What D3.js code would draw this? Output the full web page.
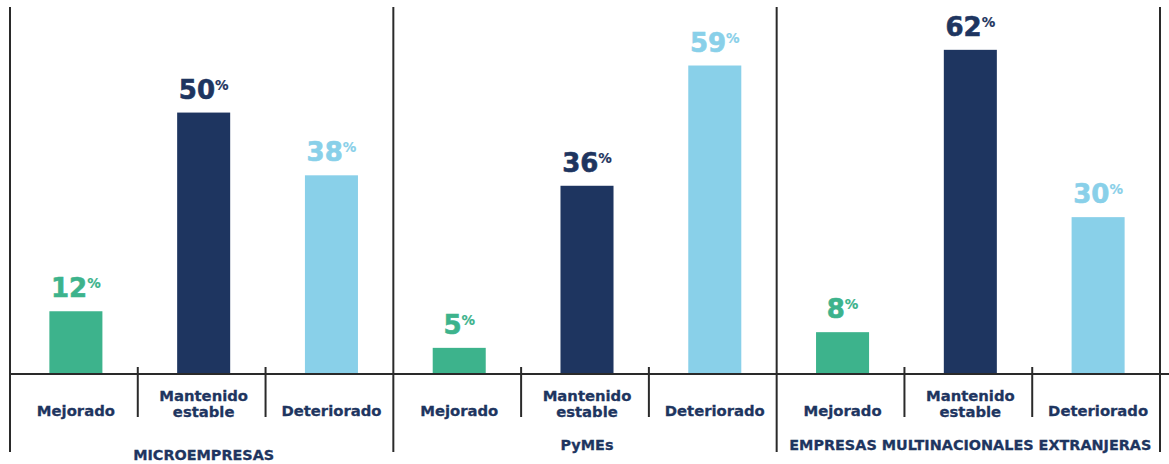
<!DOCTYPE html>
<html>
<head>
<meta charset="utf-8">
<script src="https://cdn.jsdelivr.net/npm/d3@7"></script>
<style>
  html, body { margin: 0; padding: 0; background: #ffffff; }
  svg { display: block; }
  text { font-family: "DejaVu Sans", sans-serif; font-weight: bold; }
</style>
</head>
<body>
<svg id="chart" width="1169" height="464"></svg>
<script>
// Company groups and answer categories
const groups = ["MICROEMPRESAS", "PyMEs", "EMPRESAS MULTINACIONALES EXTRANJERAS"];
const categories = ["Mejorado", "Mantenido estable", "Deteriorado"];
const categoryLines = [["Mejorado"], ["Mantenido", "estable"], ["Deteriorado"]];

// Share of companies per answer (%), one value per group
const mejorado    = [12, 5, 8];
const mantenido   = [50, 36, 62];
const deteriorado = [38, 59, 30];

const seriesValues = [mejorado, mantenido, deteriorado];
const colors = ["#3db38c", "#1e3560", "#89d0e9"];
const textColor = "#1e3560";
const lineColor = "#2a2a2a";

const W = 1169, H = 464;
const baseY = 374;

const svg = d3.select("#chart");

const xGroup = d3.scaleBand().domain(groups).range([10, 1160]).padding(0);
const xCat = d3.scaleBand().domain(categories)
  .range([0, xGroup.bandwidth()])
  .paddingInner(0.585).paddingOuter(0.2925);
const y = d3.scaleLinear().domain([0, 70]).range([baseY, 8]);
const color = d3.scaleOrdinal().domain(categories).range(colors);

const rows = [];
groups.forEach((g, gi) => {
  categories.forEach((c, ci) => {
    rows.push({ group: g, cat: c, ci, value: seriesValues[ci][gi] });
  });
});

const barCenter = d => xGroup(d.group) + xCat(d.cat) + xCat.bandwidth() / 2 + 2;

// Bars
svg.append("g").selectAll("rect").data(rows).join("rect")
  .attr("x", d => barCenter(d) - xCat.bandwidth() / 2)
  .attr("y", d => y(d.value))
  .attr("width", xCat.bandwidth())
  .attr("height", d => y(0) - y(d.value))
  .attr("fill", d => color(d.cat));

// Value labels with superscript percent sign
const vl = svg.append("g").selectAll("text").data(rows).join("text")
  .attr("x", barCenter)
  .attr("y", d => y(d.value) - 14)
  .attr("text-anchor", "middle")
  .attr("fill", d => color(d.cat))
  .attr("stroke", d => color(d.cat))
  .attr("stroke-width", 0.6);
vl.append("tspan").attr("font-size", 26).text(d => d.value);
vl.append("tspan").attr("font-size", 13.5).attr("stroke-width", 0.2).attr("dy", -9).text("%");

// Baseline
svg.append("line")
  .attr("x1", 10).attr("x2", W)
  .attr("y1", baseY).attr("y2", baseY)
  .attr("stroke", lineColor).attr("stroke-width", 2);

// Group dividers (full height)
const dividers = groups.map(g => xGroup(g)).concat([xGroup.range()[1]]);
svg.append("g").selectAll("line").data(dividers).join("line")
  .attr("x1", d => d).attr("x2", d => d)
  .attr("y1", 7).attr("y2", 452)
  .attr("stroke", lineColor).attr("stroke-width", 2);

// Category separators inside each group
const seps = [];
groups.forEach(g => {
  for (let i = 1; i < categories.length; i++) seps.push(xGroup(g) + xCat.step() * i);
});
svg.append("g").selectAll("line").data(seps).join("line")
  .attr("x1", d => d).attr("x2", d => d)
  .attr("y1", 367).attr("y2", 417)
  .attr("stroke", lineColor).attr("stroke-width", 2);

// Category labels
const catRows = [];
groups.forEach(g => categories.forEach((c, ci) => catRows.push({ group: g, cat: c, lines: categoryLines[ci] })));
const cl = svg.append("g").selectAll("text").data(catRows).join("text")
  .attr("x", barCenter)
  .attr("y", d => d.lines.length > 1 ? 401 : 416)
  .attr("text-anchor", "middle")
  .attr("font-size", 14.8)
  .attr("fill", textColor)
  .attr("stroke", textColor)
  .attr("stroke-width", 0.3);
cl.selectAll("tspan").data(d => d.lines.map(t => ({ t, x: barCenter(d) })))
  .join("tspan")
  .attr("x", d => d.x)
  .attr("dy", (d, i) => i === 0 ? 0 : 16)
  .text(d => d.t);

// Group labels
svg.append("g").selectAll("text").data(groups).join("text")
  .attr("x", g => xGroup(g) + xGroup.bandwidth() / 2 + 2)
  .attr("y", (g, i) => i === 0 ? 460 : 450)
  .attr("text-anchor", "middle")
  .attr("font-size", 14.4)
  .attr("fill", textColor)
  .attr("stroke", textColor)
  .attr("stroke-width", 0.3)
  .text(g => g);
</script>
</body>
</html>
